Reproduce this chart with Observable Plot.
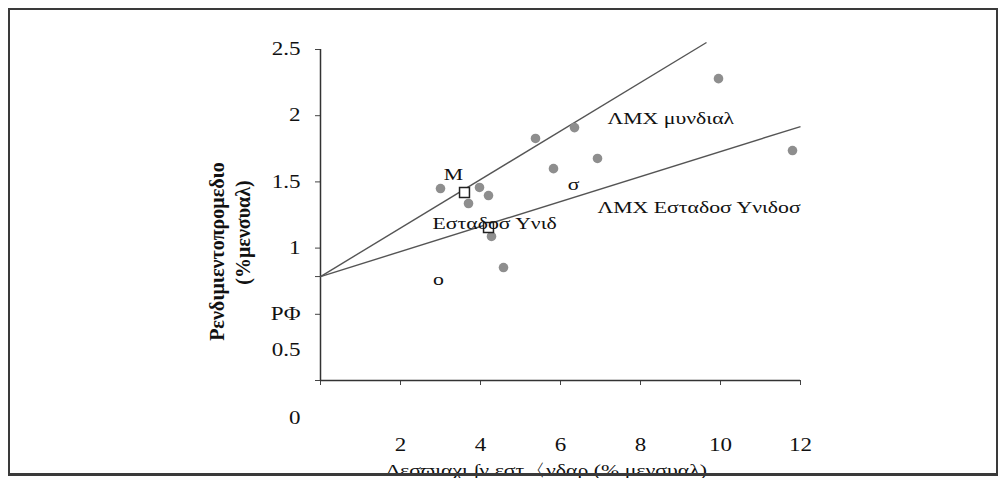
<!DOCTYPE html>
<html><head><meta charset="utf-8">
<script src="https://cdn.jsdelivr.net/npm/d3@7"></script>
<script src="https://cdn.jsdelivr.net/npm/@observablehq/plot@0.6"></script>
<style>
html,body{margin:0;padding:0;background:#fff;}
#wrap{position:relative;width:1000px;height:478px;overflow:hidden;}
#frame{position:absolute;left:8px;top:8px;width:986px;height:463px;border:2px solid #3a3a3a;border-bottom-width:3px;pointer-events:none;}
</style></head><body><div id="wrap"><div id="frame"></div></div>
<script>
// Assets (standard deviation %, mean return %)
const assetX = [3.0, 3.7, 3.975, 4.2, 4.275, 4.575, 5.375, 5.825, 6.35, 6.925, 9.95, 11.8];
const assetY = [1.45, 1.337, 1.458, 1.397, 1.088, 0.853, 1.828, 1.60, 1.91, 1.677, 2.28, 1.737];

// Market portfolios (open squares)
const portfolioX = [3.6, 4.2];
const portfolioY = [1.42, 1.156];

// Capital market lines: start at risk-free rate
const riskFree = 0.785;
const cmlNames = ["ΛΜΧ μυνδιαλ", "ΛΜΧ Εσταδοσ Υνιδοσ"];
const cmlEndX = [9.65, 12];
const cmlEndY = [2.553, 1.918];

// Annotations
const noteTexts = ["M", "Εσταδοσ Υνιδ", "σ", "ο", "ΛΜΧ μυνδιαλ", "ΛΜΧ Εσταδοσ Υνιδοσ"];
const noteX = [3.325, 2.8, 6.325, 2.95, 7.175, 6.925];
const noteY = [1.556, 1.186, 1.48, 0.763, 1.979, 1.307];
const noteCentered = [true, false, true, true, false, false];

// Axes
const xTickValues = [0, 2, 4, 6, 8, 10, 12];
const xLabelValues = [2, 4, 6, 8, 10, 12];
const yTickValues = [0, 0.5, riskFree, 1, 1.5, 2, 2.5];
const yLabelValues = [0.5, 1, 1.5, 2, 2.5];
const yLabelTexts = ["ΡΦ", "1", "1.5", "2", "2.5"];
const strayLabelTexts = ["0.5", "0"];
const strayLabelY = [0.227, -0.287];
const xTitle = "Δεσϖιαχι ∫ν εστ〈νδαρ (% μενσυαλ)";
const xTitlePos = 5.65;
const yTitle1 = "Ρενδιμιεντοπρομεδιο";
const yTitle2 = "(%μενσυαλ)";
const yTitle1Pos = 0.974;
const yTitle2Pos = 1.118;

const assets = assetX.map((x, i) => ({x, y: assetY[i]}));
const portfolios = portfolioX.map((x, i) => ({x, y: portfolioY[i]}));
const cml = cmlNames.map((name, i) => ({name, x1: 0, y1: riskFree, x2: cmlEndX[i], y2: cmlEndY[i]}));
const notes = noteTexts.map((t, i) => ({t, x: noteX[i], y: noteY[i], c: noteCentered[i]}));
const yLab = new Map(yLabelValues.map((v, i) => [v, yLabelTexts[i]]));
const strays = strayLabelTexts.map((t, i) => ({t, y: strayLabelY[i]}));

const font = "Liberation Serif, Times New Roman, serif";
const chart = Plot.plot({
  width: 1000, height: 478,
  marginLeft: 320, marginRight: 200, marginTop: 49, marginBottom: 98,
  x: {domain: [0, 12]},
  y: {domain: [0, 2.5]},
  style: {fontFamily: font, fontSize: "18px", color: "#111", background: "transparent", overflow: "visible"},
  marks: [
    Plot.axisY(yTickValues, {tickSize: 5, tickFormat: () => "", label: null, stroke: "#444"}),
    Plot.axisY(yLabelValues, {tickSize: 0, tickPadding: 20, tickFormat: d => yLab.get(d), label: null, fontSize: 18}),
    Plot.text(strays, {y: "y", text: "t", frameAnchor: "left", textAnchor: "end", dx: -20, fontSize: 18}),
    Plot.axisX(xTickValues, {tickSize: 5, tickFormat: () => "", label: null, stroke: "#444"}),
    Plot.axisX(xLabelValues, {tickSize: 0, tickPadding: 58, label: null, fontSize: 18}),
    Plot.ruleX([0], {y1: 0, y2: 2.5, stroke: "#333", strokeWidth: 1.5}),
    Plot.ruleY([0], {x1: 0, x2: 12, stroke: "#333", strokeWidth: 1.5}),
    Plot.link(cml, {x1: "x1", y1: "y1", x2: "x2", y2: "y2", stroke: "#555", strokeWidth: 1.4}),
    Plot.dot(assets, {x: "x", y: "y", r: 4.8, fill: "#8e8e8e"}),
    Plot.dot(portfolios, {x: "x", y: "y", r: 5.6, symbol: "square", fill: "white", stroke: "#222", strokeWidth: 1.5}),
    Plot.text(notes.filter(d => d.c), {x: "x", y: "y", text: "t", textAnchor: "middle", fontSize: 17, fill: "#111"}),
    Plot.text(notes.filter(d => !d.c), {x: "x", y: "y", text: "t", textAnchor: "start", fontSize: 17, fill: "#111"}),
    Plot.text([xTitle], {x: xTitlePos, frameAnchor: "bottom", dy: 95, text: d => d, fontSize: 17, fill: "#111"}),
    Plot.text([yTitle1], {y: yTitle1Pos, frameAnchor: "left", textAnchor: "middle", dx: -103, rotate: -90, text: d => d, fontSize: 20, fontWeight: "bold", fill: "#111"}),
    Plot.text([yTitle2], {y: yTitle2Pos, frameAnchor: "left", textAnchor: "middle", dx: -77, rotate: -90, text: d => d, fontSize: 20, fontWeight: "bold", fill: "#111"})
  ]
});
document.getElementById("wrap").prepend(chart);

// The reference is horizontally stretched: widen horizontal text glyphs.
const stretch = 1.28;
chart.querySelectorAll("text").forEach(t => {
  const tr = (t.getAttribute("transform") || "") + (t.parentNode.getAttribute("transform") || "");
  if (tr.includes("rotate")) return;
  const len = t.getComputedTextLength();
  if (len > 0) {
    t.setAttribute("textLength", (len * stretch).toFixed(1));
    t.setAttribute("lengthAdjust", "spacingAndGlyphs");
  }
});
</script></body></html>
